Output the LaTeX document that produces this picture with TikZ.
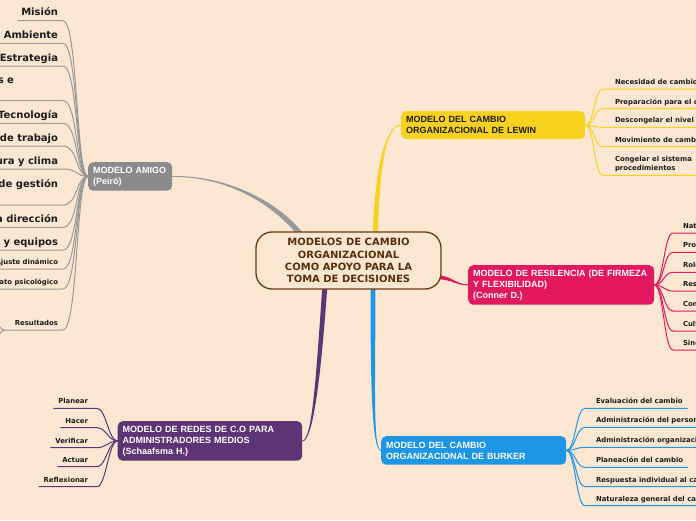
\documentclass[tikz,border=0pt]{standalone}
\usepackage{fontspec}
\setmainfont{DejaVu Sans}
\newfontfamily\boxfont{Liberation Sans}
\usetikzlibrary{calc}
\pgfdeclarelayer{bglayer}
\pgfsetlayers{bglayer,main}
\definecolor{bgc}{HTML}{FCE8D2}
\definecolor{amigoc}{HTML}{8B8B8D}
\definecolor{amigol}{HTML}{999999}
\definecolor{lewinc}{HTML}{F8D21E}
\definecolor{resc}{HTML}{E4185E}
\definecolor{burkc}{HTML}{1E96E6}
\definecolor{redc}{HTML}{5E3475}
\definecolor{brc}{HTML}{6A3A12}
\definecolor{brtxt}{HTML}{5A2E0C}
\definecolor{leaftxt}{HTML}{1C1C1C}
\tikzset{
  mbox/.style={rounded corners=5pt, inner xsep=5pt, inner ysep=0pt, align=left, anchor=north west,
    font=\boxfont\bfseries\fontsize{9}{11}\selectfont, text=white},
  hub/.style={draw=brc, line width=1.3pt, fill=bgc, rounded corners=16pt, minimum width=185pt,
    minimum height=57pt, inner sep=0pt, align=center, text=brtxt, font=\bfseries\fontsize{10}{12.2}\selectfont},
  leafs/.style={font=\bfseries\fontsize{6.9}{9}\selectfont, text=leaftxt, inner sep=0pt, outer sep=0pt, text depth=0pt},
  leafb/.style={font=\bfseries\fontsize{10}{12}\selectfont, text=leaftxt, inner sep=0pt, outer sep=0pt, text depth=0pt},
  lwl/.style={draw=lewinc, line width=1pt},
  rsl/.style={draw=resc, line width=1pt},
  bkl/.style={draw=burkc, line width=1pt},
  rdl/.style={draw=redc, line width=1pt},
  aml/.style={draw=amigol, line width=1pt},
}
\begin{document}
\begin{tikzpicture}[x=1pt,y=-1pt]
\useasboundingbox (0,0) rectangle (696,520);
\begin{pgfonlayer}{bglayer}
  \fill[bgc] (0,0) rectangle (696,520);
\end{pgfonlayer}

% central node
\node[hub] (ctr) at (348.5,260.5) {MODELOS DE CAMBIO\\ORGANIZACIONAL\\COMO APOYO PARA LA\\TOMA DE DECISIONES};

% main topic boxes
\node[mbox, fill=amigoc, minimum width=84pt, minimum height=28.5pt, text width=74pt] (amigo) at (88,162) {MODELO AMIGO\\(Peiró)};
\node[mbox, fill=lewinc, text=leaftxt, minimum width=184pt, minimum height=28pt, text width=174pt] (lewin) at (401,111) {MODELO DEL CAMBIO\\ORGANIZACIONAL DE LEWIN};
\node[mbox, fill=resc, minimum width=186pt, minimum height=39.5pt, text width=176pt] (res) at (468,265) {MODELO DE RESILENCIA (DE FIRMEZA\\Y FLEXIBILIDAD)\\(Conner D.)};
\node[mbox, fill=burkc, minimum width=185pt, minimum height=28.5pt, text width=175pt] (burker) at (381,436) {MODELO DEL CAMBIO\\ORGANIZACIONAL DE BURKER};
\node[mbox, fill=redc, minimum width=184.5pt, minimum height=39.5pt, text width=174.5pt] (redes) at (117.5,421) {MODELO DE REDES DE C.O PARA\\ADMINISTRADORES MEDIOS\\(Schaafsma H.)};

% tapered main connectors
\begin{pgfonlayer}{bglayer}
  \fill[amigol] ([yshift=0.5pt]amigo.east) .. controls (235,175.5) and (287,208) .. (308,240) -- (304,244) .. controls (283,212) and (235,176.5) .. ([yshift=-0.5pt]amigo.east) -- cycle;
  \fill[lewinc] ([yshift=0.5pt]lewin.west) .. controls (386,124.5) and (374.5,165) .. (372.5,242) -- (377.5,242) .. controls (379.5,165) and (386,125.5) .. ([yshift=-0.5pt]lewin.west) -- cycle;
  \fill[resc] ([yshift=0.5pt]res.west) .. controls (455,284.3) and (452,275) .. (434,275) -- (434,279) .. controls (452,279) and (455,285.3) .. ([yshift=-0.5pt]res.west) -- cycle;
  \fill[burkc] ([yshift=0.5pt]burker.west) .. controls (372.5,449.5) and (375.5,380) .. (375.5,284) -- (370.5,284) .. controls (370.5,380) and (371.5,450.5) .. ([yshift=-0.5pt]burker.west) -- cycle;
  \fill[redc] ([yshift=0.5pt]redes.east) .. controls (312.5,440.5) and (316.5,370) .. (322.5,284) -- (327.5,284) .. controls (321.5,370) and (313.5,441.5) .. ([yshift=-0.5pt]redes.east) -- cycle;
\end{pgfonlayer}

% Lewin leaves
\foreach \nm/\yy/\tx in {L1/84.5/Necesidad de cambio, L2/104.2/Preparación para el cambio, L3/122.8/Descongelar el nivel, L4/142.2/Movimiento de cambio}{
  \node[leafs, anchor=south west] (\nm) at (615,\yy) {\tx};
  \draw[lwl] (lewin.east) .. controls +(9,0) and +(-9,0) .. ([xshift=-12pt,yshift=-4.5pt]\nm.south west) -- ([xshift=5pt,yshift=-4.5pt]\nm.south east);
}
\node[leafs, anchor=south west, align=left] (L5) at (615,170.8) {Congelar el sistema\\procedimientos};
\draw[lwl] (lewin.east) .. controls +(9,0) and +(-9,0) .. ([xshift=-12pt,yshift=-4.5pt]L5.south west) -- ([xshift=40pt,yshift=-4.5pt]L5.south east);

% Resilience leaves
\foreach \nm/\yy/\tx in {R1/228.5/Naturaleza, R2/247.8/Proceso, R3/267.8/Roles, R4/286.5/Resistencia, R5/306.5/Compromiso, R6/326.5/Cultura, R7/345.5/Sinergia}{
  \node[leafs, anchor=south west] (\nm) at (683,\yy) {\tx};
  \draw[rsl] (res.east) .. controls +(9,0) and +(-9,0) .. ([xshift=-10pt,yshift=-4.5pt]\nm.south west) -- ([xshift=5pt,yshift=-4.5pt]\nm.south east);
}

% Burker leaves
\foreach \nm/\yy/\tx in {B1/403.8/Evaluación del cambio, B2/422.8/Administración del personal, B3/442.8/Administración organizacional, B4/462.8/Planeación del cambio, B5/482.2/Respuesta individual al cambio, B6/501.2/Naturaleza general del cambio}{
  \node[leafs, anchor=south west] (\nm) at (596,\yy) {\tx};
  \draw[bkl] (burker.east) .. controls +(9,0) and +(-9,0) .. ([xshift=-11pt,yshift=-4.5pt]\nm.south west) -- ([xshift=5pt,yshift=-4.5pt]\nm.south east);
}

% Redes leaves
\foreach \nm/\yy/\tx in {P1/403.8/Planear, P2/423.2/Hacer, P3/443.2/Verificar, P4/462.2/Actuar, P5/482.2/Reflexionar}{
  \node[leafs, anchor=south east] (\nm) at (88,\yy) {\tx};
  \draw[rdl] ([xshift=-5pt,yshift=-4.5pt]\nm.south west) -- ([xshift=9pt,yshift=-4.5pt]\nm.south east) .. controls +(9,0) and +(-9,0) .. (redes.west);
}

% AMIGO leaves (large)
\foreach \nm/\yy/\tx in {A1/15.7/Misión, A2/38.3/Ambiente, A3/61/Estrategia, A5/118.3/Tecnología, A6/141/Sistema de trabajo, A7/164/Cultura y clima, A9/222.3/Alta dirección, A10/245/Personas y equipos}{
  \node[leafb, anchor=south east] (\nm) at (58,\yy) {\tx};
  \draw[aml] ([xshift=-4pt,yshift=-5pt]\nm.south west) -- ([xshift=5pt,yshift=-5pt]\nm.south east) .. controls +(15,0) and +(-12,0) .. (amigo.west);
}
\node[leafb, anchor=south east] (A4) at (14,83.6) {Recursos e};
\draw[aml] ([xshift=-20pt,yshift=-17pt]A4.south west) -- ([xshift=49pt,yshift=-17pt]A4.south east) .. controls +(15,0) and +(-12,0) .. (amigo.west);
\node[leafb, anchor=south east] (A8) at (58,187.6) {Sistema de gestión};
\draw[aml] ([xshift=-4pt,yshift=-17.4pt]A8.south west) -- ([xshift=5pt,yshift=-17.4pt]A8.south east) .. controls +(15,0) and +(-12,0) .. (amigo.west);

% AMIGO leaves (small)
\foreach \nm/\yy/\tx in {A11/264.5/Ajuste dinámico, A12/284.5/Contrato psicológico}{
  \node[leafs, anchor=south east] (\nm) at (58,\yy) {\tx};
  \draw[aml] ([xshift=-4pt,yshift=-4.5pt]\nm.south west) -- ([xshift=5pt,yshift=-4.5pt]\nm.south east) .. controls +(15,0) and +(-12,0) .. (amigo.west);
}
\node[leafs, anchor=south east] (A13) at (58,325.5) {Resultados};
\draw[aml] ([xshift=-10pt,yshift=-4.5pt]A13.south west) -- ([xshift=5pt,yshift=-4.5pt]A13.south east) .. controls +(15,0) and +(-12,0) .. (amigo.west);
\coordinate (rc1) at (-10,318);
\coordinate (rc2) at (-10,344);
\draw[aml] ([xshift=-10pt,yshift=-4.5pt]A13.south west) .. controls +(-6,0) and +(6,0) .. (rc1);
\draw[aml] ([xshift=-10pt,yshift=-4.5pt]A13.south west) .. controls +(-6,0) and +(6,0) .. (rc2);
\end{tikzpicture}
\end{document}
